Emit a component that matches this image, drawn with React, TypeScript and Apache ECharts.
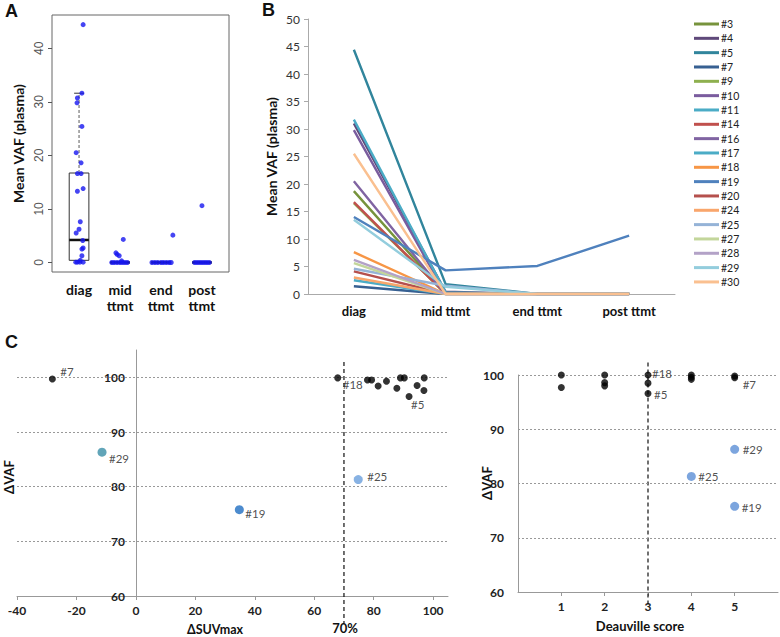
import React, { useEffect, useRef } from "react";
import * as echarts from "echarts";

// ---------- Panel A data (boxplot + jittered points) ----------
const aGroups = ["diag", "mid\nttmt", "end\nttmt", "post\nttmt"];
// [x, min, q1, median, q3, max]
const aBoxStats = [
  [1, 0, 0.4, 4.2, 16.7, 31.6],
  [2, 0, 0, 0, 0, 0],
  [3, 0, 0, 0, 0, 0],
  [4, 0, 0, 0, 0, 0],
];
const aDiagPoints = [
  [1.1, 44.4], [1.07, 31.6], [0.96, 30.7], [0.95, 29.8], [1.07, 25.4], [0.93, 20.5],
  [1.05, 18.6], [0.96, 16.6], [1.05, 16.6], [1.1, 13.8], [0.96, 13.3], [1.03, 7.6],
  [1.0, 6.2], [0.93, 5.5], [1.09, 4.1], [1.1, 2.7], [1.07, 2.5], [1.07, 1.25],
  [1.03, 0.4], [0.92, 0.05], [0.96, 0.05], [1.02, 0.05], [1.1, 0.05],
];
const aMidPoints = [
  [2.08, 4.3], [1.9, 1.8], [1.93, 1.5], [1.98, 1.25], [2.04, 0.3], [1.8, 0], [1.86, 0],
  [1.93, 0], [2.0, 0], [2.06, 0], [2.12, 0], [2.18, 0],
];
const aEndPoints = [
  [3.29, 5.1], [2.78, 0], [2.85, 0], [2.92, 0], [3.0, 0], [3.06, 0], [3.13, 0], [3.2, 0], [3.25, 0],
];
const aPostPoints = [
  [4.0, 10.6], [3.82, 0], [3.88, 0], [3.94, 0], [4.0, 0], [4.06, 0], [4.12, 0], [4.18, 0],
];

// ---------- Panel B data (per-patient lines) ----------
const bCategories = ["diag", "mid ttmt", "end ttmt", "post ttmt"];
const patients = ["#3", "#4", "#5", "#7", "#9", "#10", "#11", "#14", "#16", "#17", "#18", "#19", "#20", "#24", "#25", "#27", "#28", "#29", "#30"];
const patientColors = ["#77933C", "#5F497A", "#31859C", "#376092", "#8EB04F", "#7A5C9E", "#4BACC6", "#C0504D", "#8064A2", "#4BACC6", "#F79646", "#4F81BD", "#B5504D", "#F9A66C", "#95B3D7", "#C3D69B", "#B3A2C7", "#93CDDD", "#FAC090"];
const vafDiag = [18.7, 31.0, 44.4, 1.4, 16.5, 29.8, 2.5, 16.7, 20.5, 31.7, 7.6, 14.0, 4.1, 3.0, 4.6, 5.6, 6.2, 13.5, 25.5];
const vafMid = [0, 0.4, 1.8, 0, 0, 0, 0, 0, 0, 0.3, 0, 4.3, 0, 0, 1.5, 0, 0, 1.3, 0];
const vafEnd = [0, 0, 0, 0, 0, 0, 0, 0, 0, 0, 0, 5.1, 0, 0, 0, 0, 0, 0, 0];
const vafPost = [0, 0, 0, 0, 0, 0, 0, 0, 0, 0, 0, 10.6, 0, 0, 0, 0, 0, 0, 0];

// ---------- Panel C data ----------
const suvBlack = [
  [-28.1, 99.7], [67.9, 99.9], [77.9, 99.5], [79.3, 99.5], [81.5, 98.4], [84.3, 99.3], [87.8, 98.0],
  [89.0, 99.9], [90.3, 99.9], [91.9, 96.5], [94.6, 98.5], [96.9, 97.6], [97.0, 99.9],
];
const suvBlackLabels = ["#7", "#18", "", "", "", "", "", "", "", "#5", "", "", ""];
const suvColored = [[-11.4, 86.3], [34.8, 75.8], [74.8, 81.3]];
const suvColoredLabels = ["#29", "#19", "#25"];
const suvThreshold = 70;

const deauBlack = [
  [1, 100], [1, 97.7], [2, 100], [2, 98.6], [2, 98.0], [3, 100], [3, 98.5], [3, 96.6],
  [4, 100], [4, 99.6], [4, 99.2], [5, 99.8], [5, 99.5],
];
const deauBlackLabels = ["", "", "", "", "", "#18", "", "#5", "", "", "", "", "#7"];
const deauColored = [[5, 86.3], [4, 81.3], [5, 75.8]];
const deauColoredLabels = ["#29", "#25", "#19"];
const deauThreshold = 3;
const vafGridValues = [70, 80, 90, 100];
const vafTicks = [60, 70, 80, 90, 100];
const suvTicks = [-40, -20, 0, 20, 40, 60, 80, 100];
const deauTicks = [1, 2, 3, 4, 5];

// ---------- styling (not data) ----------
const FONT = "Lato";
const suvLabelOffsets: Record<string, [number, number]> = {
  "#7": [8, -7], "#18": [5, 7], "#5": [2, 8], "#29": [7, 6], "#19": [6, 4], "#25": [9, -3],
};
const deauLabelOffsets: Record<string, [number, number]> = {
  "#18": [4, -2], "#5": [6, 1], "#7": [8, 7], "#29": [8, 0], "#25": [7, 0], "#19": [7, 1],
};
const suvColoredColors = ["#3A8FA8", "#1F6EC2", "#6A9FDC"];

function labeled(points: number[][], labels: string[], offsets: Record<string, [number, number]>, r: number, colors?: string[]) {
  return points.map((p, i) => {
    const item: any = { value: p };
    if (colors) item.itemStyle = { color: colors[i] };
    const t = labels[i];
    if (t) {
      const off = offsets[t] || [6, 0];
      item.label = {
        show: true, formatter: t, position: "right", distance: 0,
        offset: [off[0] - r, off[1]], fontSize: 11.5, color: "#222", fontFamily: FONT,
      };
    }
    return item;
  });
}

export default function App() {
  const ref = useRef<HTMLDivElement>(null);
  useEffect(() => {
    document.body.style.margin = "0";
    if (!ref.current) return;
    const chart = echarts.init(ref.current, null, { renderer: "svg" });

    const boldLbl = { fontWeight: "bold" as const, fontSize: 12, color: "#222", fontFamily: FONT };
    const gridMarkLine = (values: number[]) => ({
      silent: true, symbol: "none", label: { show: false },
      lineStyle: { type: [2, 2], color: "#999", width: 1 },
      data: values.map((v) => ({ yAxis: v })),
    });

    const option: any = {
      animation: false,
      textStyle: { fontFamily: FONT },
      grid: [
        { left: 52, top: 15, width: 177, height: 257, show: true, borderColor: "#666", borderWidth: 1, backgroundColor: "transparent" },
        { left: 308, top: 19, width: 367, height: 275 },
        { left: 17, top: 350, width: 431, height: 246 },
        { left: 518, top: 375, width: 260, height: 217 },
        // y axis of the left C panel, placed where ΔSUVmax = 0
        { left: 136, top: 350, width: 312, height: 246 },
      ],
      xAxis: [
        {
          gridIndex: 0, type: "value", min: 0.34, max: 4.66,
          axisLine: { show: false }, axisTick: { show: false }, splitLine: { show: false },
          axisLabel: {
            customValues: [1, 2, 3, 4],
            formatter: (v: number) => aGroups[Math.round(v) - 1] || "",
            fontWeight: "bold", fontSize: 14, color: "#111", lineHeight: 16, margin: 9, fontFamily: FONT,
          },
        },
        {
          gridIndex: 1, type: "category", data: bCategories, boundaryGap: true,
          axisLine: { lineStyle: { color: "#aaa" } },
          axisTick: { alignWithLabel: true, length: 4, lineStyle: { color: "#aaa" } },
          axisLabel: { fontWeight: "bold", fontSize: 13, color: "#111", margin: 10, fontFamily: FONT },
        },
        {
          gridIndex: 2, type: "value", min: -40, max: 105,
          axisLine: { lineStyle: { color: "#999" } },
          axisTick: { customValues: suvTicks, length: 4, lineStyle: { color: "#999" } },
          splitLine: { show: false },
          axisLabel: { ...boldLbl, customValues: suvTicks, margin: 8 },
        },
        {
          gridIndex: 3, type: "value", min: 0, max: 6,
          axisLine: { lineStyle: { color: "#999" } },
          axisTick: { customValues: deauTicks, length: 4, lineStyle: { color: "#999" } },
          splitLine: { show: false },
          axisLabel: { ...boldLbl, customValues: deauTicks, margin: 8 },
        },
        { gridIndex: 4, type: "value", min: 0, max: 105, show: false },
      ],
      yAxis: [
        {
          gridIndex: 0, type: "value", min: -1.78, max: 46.2,
          axisLine: { show: false }, splitLine: { show: false },
          axisTick: { show: true, customValues: [0, 10, 20, 30, 40], length: 4, lineStyle: { color: "#555" } },
          axisLabel: { customValues: [0, 10, 20, 30, 40], rotate: 90, color: "#555", fontSize: 12, margin: 7, fontFamily: "Liberation Sans" },
          name: "Mean VAF (plasma)", nameLocation: "middle", nameGap: 27,
          nameTextStyle: { fontWeight: "bold", fontSize: 14, color: "#111", fontFamily: FONT },
        },
        {
          gridIndex: 1, type: "value", min: 0, max: 50, interval: 5,
          axisLine: { show: true, lineStyle: { color: "#aaa" } },
          axisTick: { show: true, length: 4, lineStyle: { color: "#aaa" } },
          splitLine: { show: false },
          axisLabel: { fontSize: 12, color: "#333", margin: 8, fontFamily: FONT },
          name: "Mean VAF (plasma)", nameLocation: "middle", nameGap: 30,
          nameTextStyle: { fontWeight: "bold", fontSize: 14, color: "#111", fontFamily: FONT },
        },
        {
          gridIndex: 2, type: "value", min: 60, max: 105, show: false,
        },
        {
          gridIndex: 3, type: "value", min: 60, max: 100,
          axisLine: { show: true, lineStyle: { color: "#999" } },
          axisTick: { show: false }, splitLine: { show: false },
          axisLabel: { ...boldLbl, customValues: vafTicks, margin: 14 },
        },
        {
          gridIndex: 4, type: "value", min: 60, max: 105,
          axisLine: { show: true, lineStyle: { color: "#999" } },
          axisTick: { show: false }, splitLine: { show: false },
          axisLabel: { ...boldLbl, customValues: vafTicks, margin: 11 },
        },
      ],
      legend: {
        data: patients, orient: "vertical", left: 694, top: 17, padding: 0,
        icon: "rect", itemWidth: 25, itemHeight: 3, itemGap: 0.33, selectedMode: false,
        textStyle: { fontSize: 10.5, lineHeight: 14, color: "#222", fontFamily: FONT, padding: [0, 0, 0, -3] },
      },
      series: [
        // Panel A box plots
        {
          type: "custom", xAxisIndex: 0, yAxisIndex: 0, z: 2, silent: true,
          data: aBoxStats,
          encode: { x: 0, y: [1, 2, 3, 4, 5] },
          renderItem: (_p: any, api: any) => {
            const x = api.value(0), lo = api.value(1), q1 = api.value(2), med = api.value(3), q3 = api.value(4), hi = api.value(5);
            const hw = 0.24, cw = 0.12;
            const children: any[] = [];
            if (q3 > q1) {
              const a = api.coord([x - hw, q3]);
              const b = api.coord([x + hw, q1]);
              children.push({ type: "rect", shape: { x: a[0], y: a[1], width: b[0] - a[0], height: b[1] - a[1] }, style: { fill: "none", stroke: "#333", lineWidth: 1 } });
            }
            if (hi > q3) {
              const s = api.coord([x, q3]), e = api.coord([x, hi]);
              children.push({ type: "line", shape: { x1: s[0], y1: s[1], x2: e[0], y2: e[1] }, style: { stroke: "#777", lineWidth: 1.2, lineDash: [3, 2] } });
              const c1 = api.coord([x - cw, hi]), c2 = api.coord([x + cw, hi]);
              children.push({ type: "line", shape: { x1: c1[0], y1: c1[1], x2: c2[0], y2: c2[1] }, style: { stroke: "#333", lineWidth: 1 } });
            }
            if (q1 > lo) {
              const s = api.coord([x, q1]), e = api.coord([x, lo]);
              children.push({ type: "line", shape: { x1: s[0], y1: s[1], x2: e[0], y2: e[1] }, style: { stroke: "#777", lineWidth: 1.2, lineDash: [3, 2] } });
            }
            const m1 = api.coord([x - hw, med]), m2 = api.coord([x + hw, med]);
            children.push({ type: "line", shape: { x1: m1[0], y1: m1[1], x2: m2[0], y2: m2[1] }, style: { stroke: "#111", lineWidth: 2.5 } });
            return { type: "group", children };
          },
        },
        {
          type: "scatter", name: "A points", xAxisIndex: 0, yAxisIndex: 0, z: 3, symbolSize: 5,
          itemStyle: { color: "#1616F0" },
          data: [...aDiagPoints, ...aMidPoints, ...aEndPoints, ...aPostPoints],
        },
        // Panel B lines
        ...patients.map((p, i) => ({
          type: "line", name: p, xAxisIndex: 1, yAxisIndex: 1, showSymbol: false, symbol: "none",
          color: patientColors[i],
          lineStyle: { width: 2.4, color: patientColors[i] },
          data: [vafDiag[i], vafMid[i], vafEnd[i], vafPost[i]],
        })),
        // Panel C left
        {
          type: "line", name: "C1 grid", xAxisIndex: 2, yAxisIndex: 2, data: [],
          markLine: gridMarkLine(vafGridValues),
        },
        {
          type: "line", name: "C1 threshold", xAxisIndex: 2, yAxisIndex: 2, clip: false, symbol: "none",
          lineStyle: { type: [4, 3], color: "#111", width: 1.2 },
          data: [[suvThreshold, 102.8], [suvThreshold, 55]],
        },
        {
          type: "scatter", name: "C1 black", xAxisIndex: 2, yAxisIndex: 2, symbolSize: 7, z: 5,
          itemStyle: { color: "#000" },
          data: labeled(suvBlack, suvBlackLabels, suvLabelOffsets, 3.5),
        },
        {
          type: "scatter", name: "C1 colored", xAxisIndex: 2, yAxisIndex: 2, symbolSize: 9, z: 5,
          data: labeled(suvColored, suvColoredLabels, suvLabelOffsets, 4.5, suvColoredColors),
        },
        // Panel C right
        {
          type: "line", name: "C2 grid", xAxisIndex: 3, yAxisIndex: 3, data: [],
          markLine: gridMarkLine(vafGridValues),
        },
        {
          type: "line", name: "C2 threshold", xAxisIndex: 3, yAxisIndex: 3, clip: false, symbol: "none",
          lineStyle: { type: [4, 3], color: "#111", width: 1.2 },
          data: [[deauThreshold, 102.3], [deauThreshold, 57.5]],
        },
        {
          type: "scatter", name: "C2 black", xAxisIndex: 3, yAxisIndex: 3, symbolSize: 7, z: 5, clip: false,
          itemStyle: { color: "#000" },
          data: labeled(deauBlack, deauBlackLabels, deauLabelOffsets, 3.5),
        },
        {
          type: "scatter", name: "C2 colored", xAxisIndex: 3, yAxisIndex: 3, symbolSize: 9, z: 5,
          itemStyle: { color: "#5B8FD6" },
          data: labeled(deauColored, deauColoredLabels, deauLabelOffsets, 4.5),
        },
      ],
      graphic: [
        { type: "text", left: 5, top: 2, style: { text: "A", fontSize: 18, fontWeight: "bold", fill: "#111", fontFamily: "Liberation Sans" } },
        { type: "text", left: 262, top: 1, style: { text: "B", fontSize: 18, fontWeight: "bold", fill: "#111", fontFamily: "Liberation Sans" } },
        { type: "text", left: 5, top: 333, style: { text: "C", fontSize: 18, fontWeight: "bold", fill: "#111", fontFamily: "Liberation Sans" } },
        { type: "text", x: 9, y: 477, rotation: Math.PI / 2, style: { text: "ΔVAF", fontSize: 13, fontWeight: "bold", fill: "#111", fontFamily: FONT, align: "center", verticalAlign: "middle" } },
        { type: "text", x: 487, y: 483, rotation: Math.PI / 2, style: { text: "ΔVAF", fontSize: 13, fontWeight: "bold", fill: "#111", fontFamily: FONT, align: "center", verticalAlign: "middle" } },
        { type: "text", x: 215, y: 629, style: { text: "ΔSUVmax", fontSize: 12.5, fontWeight: "bold", fill: "#111", fontFamily: FONT, align: "center", verticalAlign: "middle" } },
        { type: "text", x: 345, y: 628, style: { text: "70%", fontSize: 13, fontWeight: "bold", fill: "#111", fontFamily: FONT, align: "center", verticalAlign: "middle" } },
        { type: "text", x: 640, y: 626, style: { text: "Deauville score", fontSize: 13, fontWeight: "bold", fill: "#111", fontFamily: FONT, align: "center", verticalAlign: "middle" } },
      ],
    };
    chart.setOption(option);
    return () => chart.dispose();
  }, []);
  return <div ref={ref} style={{ width: 780, height: 637 }} />;
}
